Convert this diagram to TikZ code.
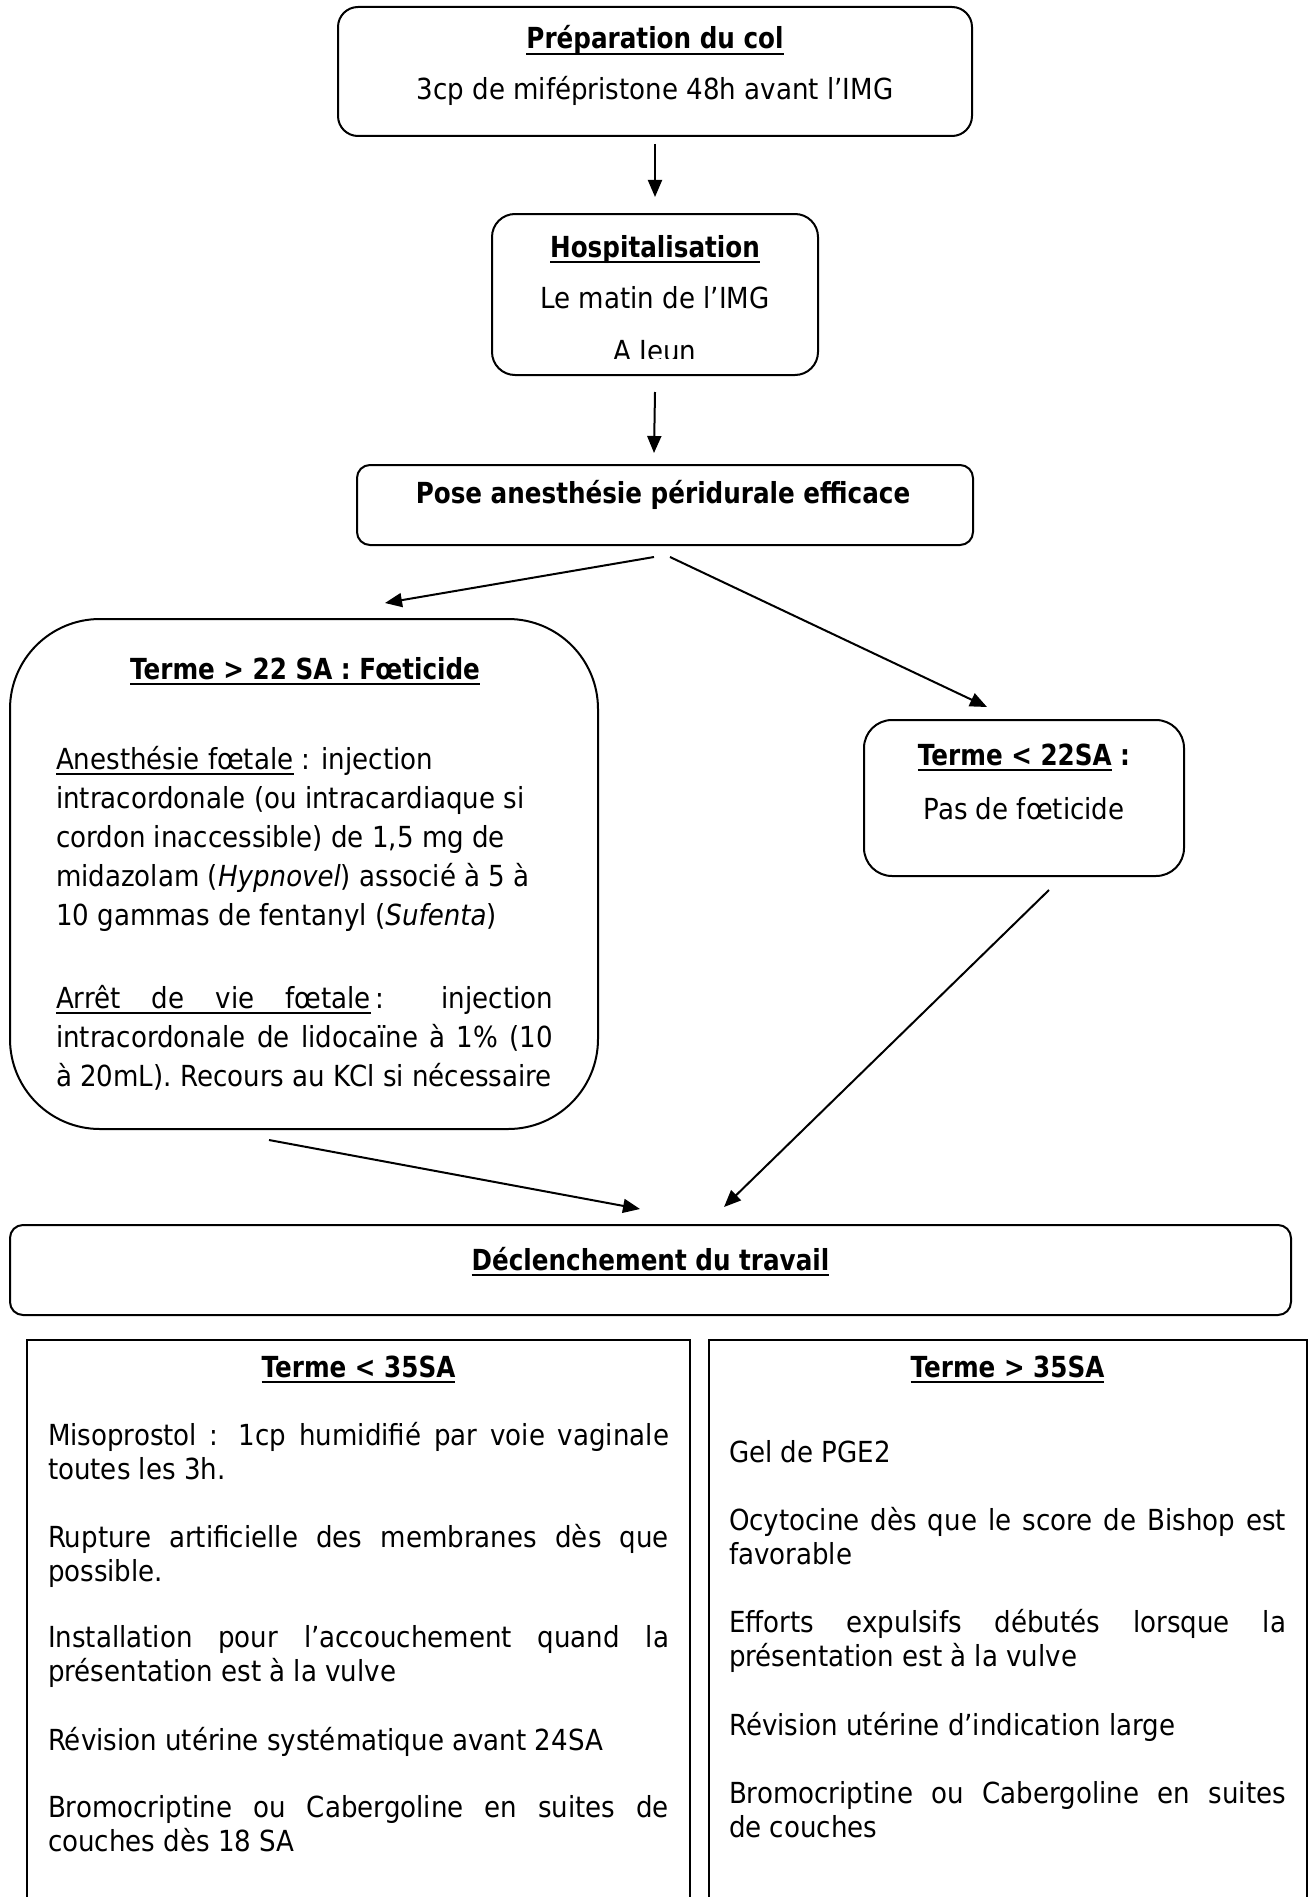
\documentclass[tikz,border=0pt]{standalone}
\usepackage{fontspec}
\setmainfont{DejaVu Sans}[UprightFeatures={FakeStretch=0.9}, ItalicFeatures={FakeStretch=0.9}, BoldFeatures={FakeStretch=0.85}]
\usetikzlibrary{arrows.meta}
\newcommand{\fsA}{\fontsize{29}{34}\selectfont}
\newcommand{\fsB}{\fontsize{29}{39.2}\selectfont}
\newcommand{\JL}[1]{\hbox to\hsize{#1}}
\newcommand{\RL}[1]{\hbox{#1}}
\newcommand{\block}[2]{\vtop{\hsize=#1\relax #2}}
\newcommand{\ULw}[1]{\leavevmode\setbox0\hbox{#1}\rlap{\rule[-6pt]{\wd0}{2.3pt}}\box0\relax}
\newcommand{\ULs}{\leaders\hrule height -3.7pt depth 6pt\hskip\fontdimen2\font plus\fontdimen3\font minus\fontdimen4\font\relax}
\tikzset{
  shapebox/.style={draw, line width=2pt, inner sep=0pt, outer sep=0pt},
  txt/.style={inner sep=0pt, outer sep=0pt, anchor=base, font=\fsA},
  para/.style={inner sep=0pt, outer sep=0pt, anchor=base west, font=\fsA},
  arr/.style={line width=2pt, -{Triangle[length=17pt,width=14pt]}},
}
\begin{document}
\begin{tikzpicture}[x=1pt,y=-1pt]
\clip (0,0) rectangle (1312,1897);
\fill[white] (0,0) rectangle (1312,1897);

% boxes
\node[shapebox, rounded corners=20pt, minimum width=634pt, minimum height=129pt] (prep) at (655,71.5) {};
\node[shapebox, rounded corners=23pt, minimum width=326pt, minimum height=161pt] (hosp) at (655,294.5) {};
\node[shapebox, rounded corners=13pt, minimum width=616pt, minimum height=80pt] (pose) at (665,505) {};
\node[shapebox, rounded corners=90pt, minimum width=588pt, minimum height=510pt] (fet) at (304,874) {};
\node[shapebox, rounded corners=28pt, minimum width=320pt, minimum height=156pt] (nof) at (1024,798) {};
\node[shapebox, rounded corners=13pt, minimum width=1281pt, minimum height=90pt] (decl) at (650.5,1270) {};
\node[shapebox, line width=2.4pt, minimum width=663pt, minimum height=620pt] (low) at (358.5,1650) {};
\node[shapebox, line width=2.4pt, minimum width=598pt, minimum height=620pt] (high) at (1008,1650) {};

% texts: preparation
\node[txt] (prepT) at (655,49) {\bfseries\ULw{Préparation du col}};
\node[txt] (prepB) at (655,100) {3cp de mifépristone 48h avant l’IMG};
% hospitalisation
\node[txt] (hospT) at (655,257) {\bfseries\ULw{Hospitalisation}};
\node[txt] (hospB) at (655,308.5) {Le matin de l’IMG};
\begin{scope}
\clip (492,214) rectangle (818,358.3);
\node[txt] (hospC) at (655,361) {A Jeun};
\end{scope}
% pose
\node[txt] (poseT) at (663,503) {\bfseries Pose anesthésie péridurale efficace};
% foeticide
\node[txt] (fetT) at (305,679) {\bfseries\ULw{Terme > 22 SA : Fœticide}};
\node[para, font=\fsB] (fetA) at (56,769) {\block{497pt}{%
\RL{\ULw{Anesthésie fœtale} : injection}
\RL{intracordonale (ou intracardiaque si}
\RL{cordon inaccessible) de 1,5 mg de}
\RL{midazolam (\textit{Hypnovel}) associé à 5 à}
\RL{10 gammas de fentanyl (\textit{Sufenta})}}};
\node[para, font=\fsB] (fetB) at (56,1008) {\block{497pt}{%
\JL{\ULw{Arrêt}\ULs\ULw{de}\ULs\ULw{vie}\ULs\ULw{fœtale}\,: injection}
\JL{intracordonale de lidocaïne à 1\% (10}
\RL{à 20mL). Recours au KCl si nécessaire}}};
% pas de foeticide
\node[txt] (nofT) at (1024,765) {\bfseries\ULw{Terme < 22SA} :};
\node[txt] (nofB) at (1024,819) {Pas de fœticide};
% declenchement
\node[txt] (declT) at (650.5,1270) {\bfseries\ULw{Déclenchement du travail}};
% terme < 35SA
\node[txt] (lowT) at (358.5,1377) {\bfseries\ULw{Terme < 35SA}};
\node[para] (low1) at (48,1445) {\block{621pt}{%
\JL{Misoprostol : 1cp humidifié par voie vaginale}
\RL{toutes les 3h.}}};
\node[para] (low2) at (48,1547) {\block{621pt}{%
\JL{Rupture artificielle des membranes dès que}
\RL{possible.}}};
\node[para] (low3) at (48,1647) {\block{621pt}{%
\JL{Installation pour l’accouchement quand la}
\RL{présentation est à la vulve}}};
\node[para] (low4) at (48,1750) {\block{621pt}{%
\RL{Révision utérine systématique avant 24SA}}};
\node[para] (low5) at (48,1817) {\block{621pt}{%
\JL{Bromocriptine ou Cabergoline en suites de}
\RL{couches dès 18 SA}}};
% terme > 35SA
\node[txt] (highT) at (1007.5,1377) {\bfseries\ULw{Terme > 35SA}};
\node[para] (high1) at (729,1462) {\block{557pt}{%
\RL{Gel de PGE2}}};
\node[para] (high2) at (729,1530) {\block{557pt}{%
\JL{Ocytocine dès que le score de Bishop est}
\RL{favorable}}};
\node[para] (high3) at (729,1632) {\block{557pt}{%
\JL{Efforts expulsifs débutés lorsque la}
\RL{présentation est à la vulve}}};
\node[para] (high4) at (729,1735) {\block{557pt}{%
\RL{Révision utérine d’indication large}}};
\node[para] (high5) at (729,1803) {\block{557pt}{%
\JL{Bromocriptine ou Cabergoline en suites}
\RL{de couches}}};

% connectors
\draw[arr] ([yshift=-8pt]prep.south) -- ([yshift=17pt]hosp.north);
\draw[arr] ([yshift=-17pt]hosp.south) -- ([xshift=-11pt,yshift=12pt]pose.north);
\draw[arr] ([xshift=-11pt,yshift=-12pt]pose.south) -- ([xshift=81pt,yshift=16pt]fet.north);
\draw[arr] ([xshift=5pt,yshift=-12pt]pose.south) -- ([xshift=-37pt,yshift=13pt]nof.north);
\draw[arr] ([xshift=-35pt,yshift=-11pt]fet.south) -- ([xshift=-10.5pt,yshift=16pt]decl.north);
\draw[arr] ([xshift=25pt,yshift=-14pt]nof.south) -- ([xshift=73.5pt,yshift=18pt]decl.north);
\end{tikzpicture}
\end{document}
